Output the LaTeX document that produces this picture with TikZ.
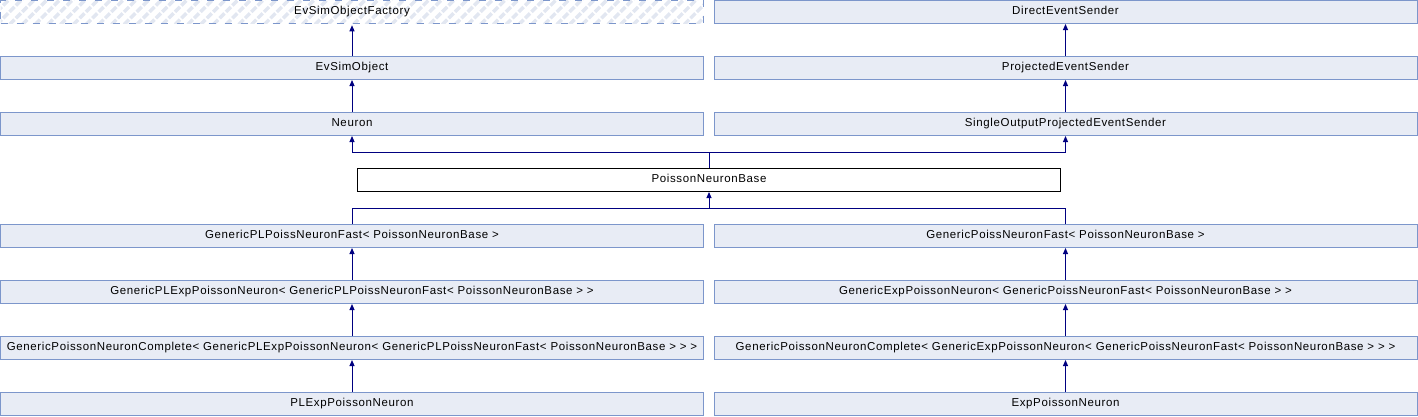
\documentclass[tikz,border=0pt]{standalone}
\usepackage{fontspec}
\setmainfont{Liberation Sans}
\newfontfamily\diafont[LetterSpace=5.5]{Liberation Sans}
\usetikzlibrary{arrows.meta,patterns.meta}
\definecolor{boxfill}{HTML}{E8ECF5}
\definecolor{boxline}{HTML}{7C96CB}
\definecolor{hatchcol}{HTML}{E2E7F1}
\definecolor{arrowcol}{HTML}{000080}
\tikzset{
  clsfont/.style={font=\diafont\fontsize{11.5}{13}\selectfont, text height=8pt, text depth=2.6pt},
  cls/.style={draw=boxline, fill=boxfill, line width=1pt, minimum width=703pt, minimum height=23pt, inner sep=0pt, clsfont},
  hidden/.style={draw=boxline, dash pattern=on 7pt off 9pt, line width=1pt, pattern={Lines[angle=45,distance=9pt,line width=3.5pt]}, pattern color=hatchcol, minimum width=703pt, minimum height=23pt, inner sep=0pt, clsfont},
  base/.style={draw=black, fill=white, line width=1pt, minimum width=703pt, minimum height=23pt, inner sep=0pt, clsfont},
  inh/.style={draw=arrowcol, line width=1pt, -{Triangle[width=5pt,length=6pt]}},
  link/.style={draw=arrowcol, line width=1pt}
}
\begin{document}
\begin{tikzpicture}[x=1pt,y=-1pt]
\useasboundingbox (0,0) rectangle (1418,416);
% rows
\node[hidden] (efac) at (352,12) {EvSimObjectFactory};
\node[cls] (des) at (1065.5,12) {DirectEventSender};
\node[cls] (esim) at (352,68) {EvSimObject};
\node[cls] (pes) at (1065.5,68) {ProjectedEventSender};
\node[cls] (neuron) at (352,124) {Neuron};
\node[cls] (sope) at (1065.5,124) {SingleOutputProjectedEventSender};
\node[base] (pnb) at (709,180) {PoissonNeuronBase};
\node[cls] (gplf) at (352,236) {GenericPLPoissNeuronFast< PoissonNeuronBase >};
\node[cls] (gpf) at (1065.5,236) {GenericPoissNeuronFast< PoissonNeuronBase >};
\node[cls] (gplexp) at (352,292) {GenericPLExpPoissonNeuron< GenericPLPoissNeuronFast< PoissonNeuronBase > >};
\node[cls] (gexp) at (1065.5,292) {GenericExpPoissonNeuron< GenericPoissNeuronFast< PoissonNeuronBase > >};
\node[cls] (gcpl) at (352,348) {GenericPoissonNeuronComplete< GenericPLExpPoissonNeuron< GenericPLPoissNeuronFast< PoissonNeuronBase > > >};
\node[cls] (gcexp) at (1065.5,348) {GenericPoissonNeuronComplete< GenericExpPoissonNeuron< GenericPoissNeuronFast< PoissonNeuronBase > > >};
\node[cls] (plexp) at (352,404) {PLExpPoissonNeuron};
\node[cls] (exp) at (1065.5,404) {ExpPoissonNeuron};
% junctions
\coordinate (j1) at (709,152.3);
\coordinate (j2) at (709,208.3);
% connectors
\draw[inh] (esim.north) -- (efac.south);
\draw[inh] (neuron.north) -- (esim.south);
\draw[inh] (pes.north) -- (des.south);
\draw[inh] (sope.north) -- (pes.south);
\draw[inh] (pnb.north) -- (j1) -| (neuron.south);
\draw[inh] (j1) -| (sope.south);
\draw[link] (gplf.north) |- (j2);
\draw[link] (gpf.north) |- (j2);
\draw[inh] (j2) -- (pnb.south);
\draw[inh] (gplexp.north) -- (gplf.south);
\draw[inh] (gexp.north) -- (gpf.south);
\draw[inh] (gcpl.north) -- (gplexp.south);
\draw[inh] (gcexp.north) -- (gexp.south);
\draw[inh] (plexp.north) -- (gcpl.south);
\draw[inh] (exp.north) -- (gcexp.south);
\end{tikzpicture}
\end{document}
